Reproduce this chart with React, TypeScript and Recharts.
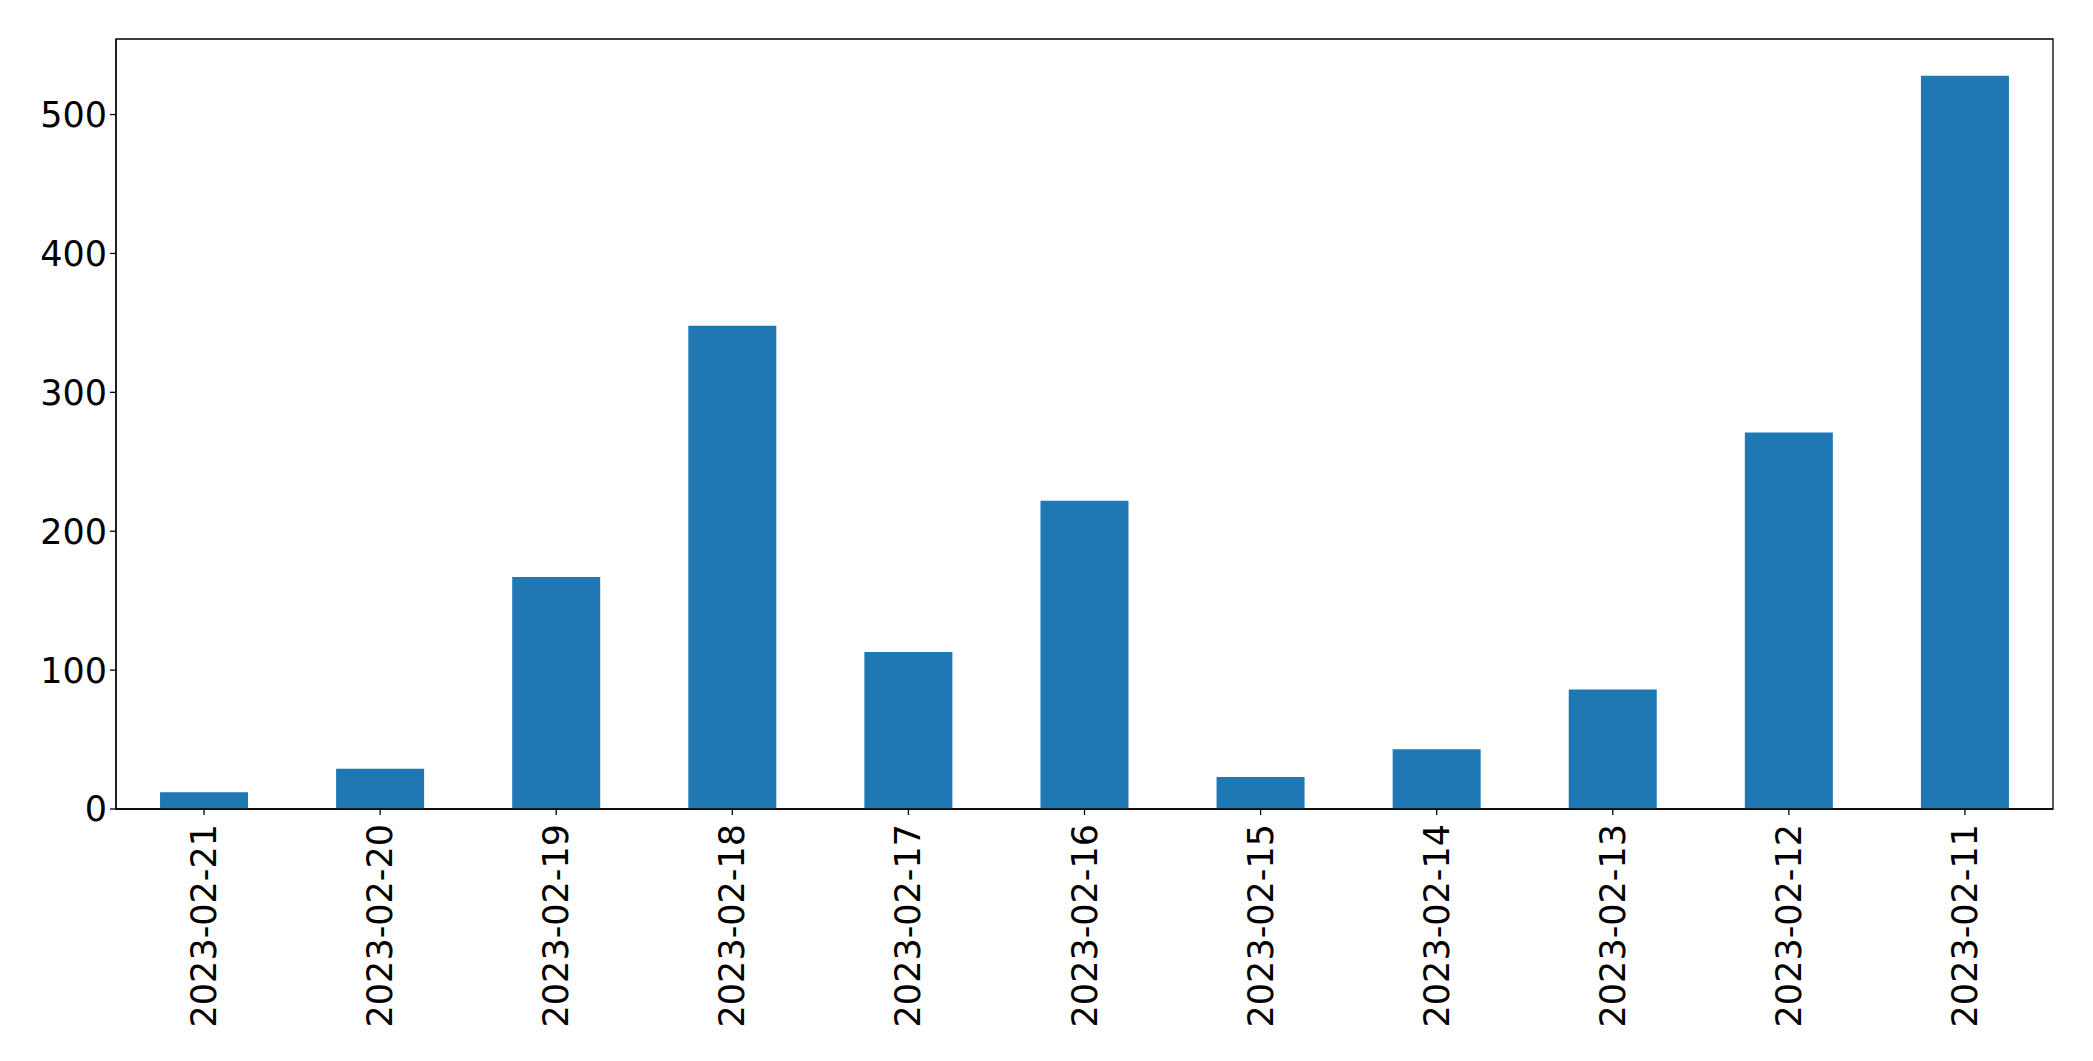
import { BarChart, Bar, XAxis, YAxis, ReferenceArea } from "recharts";

const dates = [
  "2023-02-21",
  "2023-02-20",
  "2023-02-19",
  "2023-02-18",
  "2023-02-17",
  "2023-02-16",
  "2023-02-15",
  "2023-02-14",
  "2023-02-13",
  "2023-02-12",
  "2023-02-11",
];

const counts = [12, 29, 167, 348, 113, 222, 23, 43, 86, 271, 528];

const yTicks = [0, 100, 200, 300, 400, 500];

const data = dates.map((date, i) => ({ date, count: counts[i] }));

const FONT = "'DejaVu Sans', sans-serif";
const FONT_SIZE = 35;
const Y_MAX = 554.4;

const DateTick = (props: any) => {
  const { x, y, payload } = props;
  return (
    <text
      x={x}
      y={y}
      transform={`rotate(-90, ${x}, ${y})`}
      textAnchor="end"
      dominantBaseline="central"
      fontFamily={FONT}
      fontSize={FONT_SIZE}
      fill="#000"
    >
      {payload.value}
    </text>
  );
};

const App = () => {
  return (
    <div style={{ position: "absolute", left: 0, top: 0, background: "#fff" }}>
      <BarChart
        width={2093}
        height={1061}
        data={data}
        barCategoryGap="25%"
        margin={{ top: 39, right: 40, bottom: 0, left: 0 }}
      >
        <XAxis
          dataKey="date"
          height={252}
          interval={0}
          stroke="#000"
          strokeWidth={1.3}
          tickSize={6}
          tickMargin={9}
          tick={<DateTick />}
        />
        <YAxis
          width={116}
          domain={[0, Y_MAX]}
          ticks={yTicks}
          allowDataOverflow
          stroke="#000"
          strokeWidth={1.3}
          tickSize={6}
          tickMargin={3}
          tick={{ fontFamily: FONT, fontSize: FONT_SIZE, fill: "#000" }}
        />
        <Bar dataKey="count" fill="#1f77b4" isAnimationActive={false} />
        <ReferenceArea
          y1={0}
          y2={Y_MAX}
          fill="none"
          fillOpacity={0}
          stroke="#000"
          strokeWidth={1.3}
          ifOverflow="visible"
        />
      </BarChart>
    </div>
  );
};

export default App;
